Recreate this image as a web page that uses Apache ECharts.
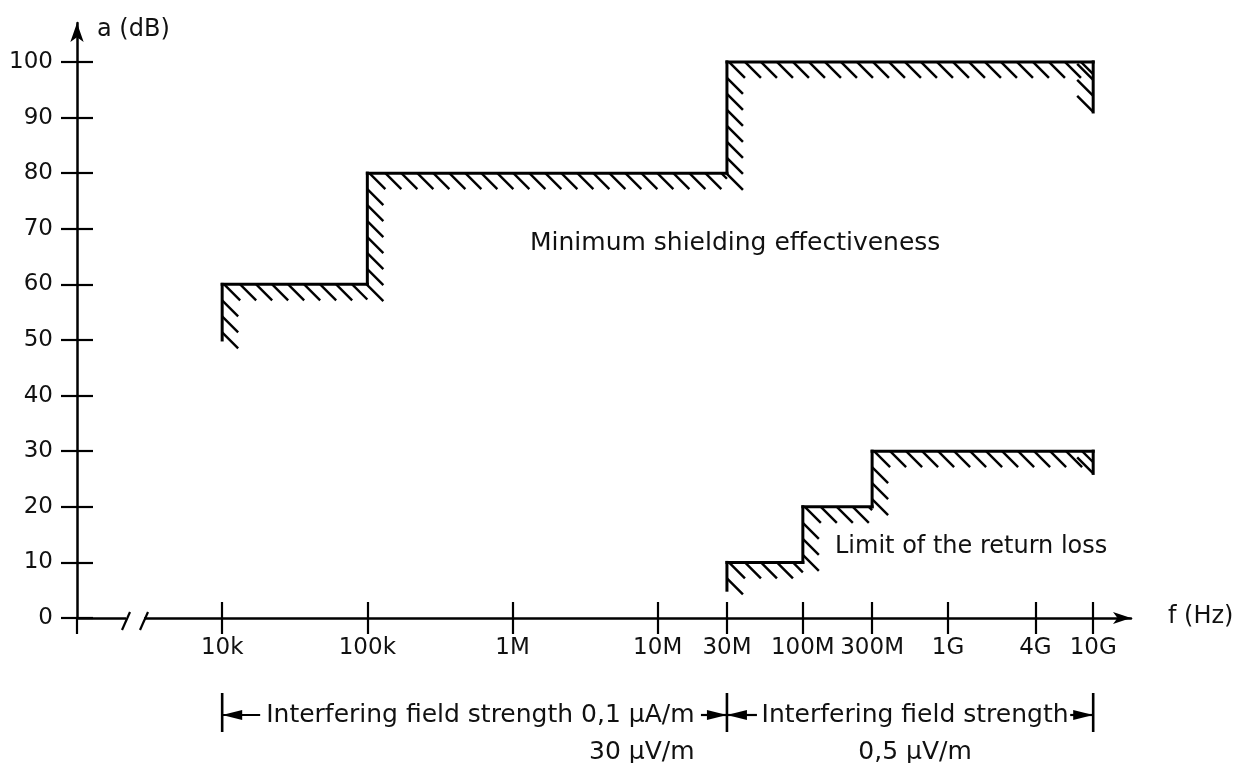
<!DOCTYPE html>
<html>
<head>
<meta charset="utf-8">
<title>Shielding effectiveness</title>
<script src="https://cdn.jsdelivr.net/npm/echarts@6/dist/echarts.min.js"></script>
<style>
  html, body { margin: 0; padding: 0; background: #fff; }
  #chart { width: 1234px; height: 763px; }
</style>
</head>
<body>
<div id="chart"></div>
<script>
// 横轴刻度 (Hz)
const tickFreq = [1e4, 1e5, 1e6, 1e7, 3e7, 1e8, 3e8, 1e9, 4e9, 1e10]
const tickLabels = ['10k', '100k', '1M', '10M', '30M', '100M', '300M', '1G', '4G', '10G']
// 纵轴刻度 (dB)
const dbTicks = [0, 10, 20, 30, 40, 50, 60, 70, 80, 90, 100]

// 最小屏蔽效能 折线顶点
const shieldFreq = [1e4, 1e4, 1e5, 1e5, 3e7, 3e7, 1e10, 1e10]
const shieldDb = [50, 60, 60, 80, 80, 100, 100, 91]
// 回波损耗限值 折线顶点
const returnFreq = [3e7, 3e7, 1e8, 1e8, 3e8, 3e8, 1e10, 1e10]
const returnDb = [5, 10, 10, 20, 20, 30, 30, 26]

// 干扰场强区间
const bandEdges = [1e4, 3e7, 1e10]
const bandTexts = [
  ['Interfering field strength 0,1 \u00b5A/m', '30 \u00b5V/m'],
  ['Interfering field strength', '0,5 \u00b5V/m']
]

const FONT = 'DejaVu Sans'
const INK = '#000'
const TEXT = '#111'
const LOG_MIN = 3
const LOG_MAX = 10.2605

const lg = (f) => Math.log10(f)

// 顶点 -> 线段
const toSegments = (freqs, dbs) =>
  freqs.slice(1).map((f, i) => [lg(freqs[i]), dbs[i], lg(f), dbs[i + 1]])

// 画一段折线和它右手边的斜线阴影
const renderStep = (params, api) => {
  const p1 = api.coord([api.value(0), api.value(1)])
  const p2 = api.coord([api.value(2), api.value(3)])
  const hatch = []
  const len = 16
  const gap = 16
  if (Math.abs(p1[1] - p2[1]) < 0.5) {
    const xs = Math.min(p1[0], p2[0])
    const xe = Math.max(p1[0], p2[0])
    for (let x = xs + 2; x < xe - 1; x += gap) {
      const d = Math.min(len, xe - x)
      hatch.push([x, p1[1], x + d, p1[1] + d])
    }
  } else if (p2[1] < p1[1]) {
    for (let y = p2[1] + gap; y <= p1[1] + 1; y += gap) {
      hatch.push([p1[0], y, p1[0] + len, y + len])
    }
  } else {
    for (let y = p2[1]; y > p1[1] + 8; y -= gap) {
      const d = Math.min(len, y - p1[1])
      hatch.push([p1[0] - d, y - d, p1[0], y])
    }
  }
  const children = hatch.map((h) => ({
    type: 'line',
    shape: { x1: h[0], y1: h[1], x2: h[2], y2: h[3] },
    style: { stroke: INK, lineWidth: 2.4 }
  }))
  children.push({
    type: 'line',
    shape: { x1: p1[0], y1: p1[1], x2: p2[0], y2: p2[1] },
    style: { stroke: INK, lineWidth: 3, lineCap: 'square' }
  })
  return { type: 'group', children }
}

const tickLogs = tickFreq.map(lg)

const labelFor = (v) => {
  const i = tickLogs.findIndex((t) => Math.abs(t - v) < 1e-6)
  return i >= 0 ? tickLabels[i] : ''
}

const chart = echarts.init(document.getElementById('chart'))

const baseX = {
  type: 'value',
  min: LOG_MIN,
  max: LOG_MAX,
  position: 'bottom',
  splitLine: { show: false }
}
const baseY = {
  type: 'value',
  min: 0,
  max: 107,
  position: 'left',
  splitLine: { show: false }
}

const option = {
  animation: false,
  backgroundColor: '#fff',
  grid: { left: 77, right: 103, top: 23, bottom: 145 },
  xAxis: [
    {
      ...baseX,
      axisLine: {
        show: true,
        symbol: ['none', 'arrow'],
        symbolSize: [9, 18],
        lineStyle: { color: INK, width: 2.5 }
      },
      axisTick: {
        show: true,
        length: 16,
        customValues: [LOG_MIN, ...tickLogs],
        lineStyle: { color: INK, width: 2.2 }
      },
      axisLabel: {
        show: true,
        customValues: tickLogs,
        formatter: labelFor,
        margin: 19,
        fontSize: 23,
        fontFamily: FONT,
        color: TEXT
      }
    },
    {
      ...baseX,
      axisLine: { show: false },
      axisTick: {
        show: true,
        inside: true,
        length: 16,
        customValues: tickLogs,
        lineStyle: { color: INK, width: 2.2 }
      },
      axisLabel: { show: false }
    }
  ],
  yAxis: [
    {
      ...baseY,
      axisLine: {
        show: true,
        symbol: ['none', 'arrow'],
        symbolSize: [10, 19],
        lineStyle: { color: INK, width: 2.5 }
      },
      axisTick: {
        show: true,
        length: 16,
        customValues: dbTicks,
        lineStyle: { color: INK, width: 2.2 }
      },
      axisLabel: {
        show: true,
        customValues: dbTicks,
        margin: 24,
        fontSize: 23,
        fontFamily: FONT,
        color: TEXT
      }
    },
    {
      ...baseY,
      axisLine: { show: false },
      axisTick: {
        show: true,
        inside: true,
        length: 16,
        customValues: dbTicks,
        lineStyle: { color: INK, width: 2.2 }
      },
      axisLabel: { show: false }
    }
  ],
  series: [
    {
      name: 'Minimum shielding effectiveness',
      type: 'custom',
      renderItem: renderStep,
      encode: { x: [0, 2], y: [1, 3] },
      clip: false,
      data: toSegments(shieldFreq, shieldDb)
    },
    {
      name: 'Limit of the return loss',
      type: 'custom',
      renderItem: renderStep,
      encode: { x: [0, 2], y: [1, 3] },
      clip: false,
      data: toSegments(returnFreq, returnDb)
    }
  ]
}
chart.setOption(option)

// 文字宽度
const measure = (txt, size) => {
  const ctx = document.createElement('canvas').getContext('2d')
  ctx.font = size + 'px "' + FONT + '"'
  return ctx.measureText(txt).width
}

const textEl = (txt, x, y, opts = {}) => ({
  type: 'text',
  x,
  y,
  z: 50,
  style: {
    text: txt,
    fontSize: opts.size || 24,
    fontFamily: FONT,
    fill: TEXT,
    align: opts.align || 'left',
    verticalAlign: opts.verticalAlign || 'middle',
    lineHeight: opts.lineHeight
  }
})

const seg = (x1, y1, x2, y2, w) => ({
  type: 'line',
  z: 50,
  shape: { x1, y1, x2, y2 },
  style: { stroke: INK, lineWidth: w || 2.2 }
})

const arrowHead = (tipX, y, dir) => ({
  type: 'polygon',
  z: 50,
  shape: { points: [[tipX, y], [tipX + dir * 20, y - 5], [tipX + dir * 20, y + 5]] },
  style: { fill: INK }
})

// 区间标注
const bx = bandEdges.map((f) => chart.convertToPixel({ xAxisIndex: 0 }, lg(f)))
const dimY = 715
const graphics = []
bx.forEach((x) => graphics.push(seg(x, 693, x, 732, 2.6)))

graphics.push(arrowHead(bx[0], dimY, 1), seg(bx[0], dimY, bx[0] + 38, dimY))
graphics.push(arrowHead(bx[1], dimY, -1), seg(bx[1] - 26, dimY, bx[1], dimY))
graphics.push(arrowHead(bx[1], dimY, 1), seg(bx[1], dimY, bx[1] + 30, dimY))
graphics.push(arrowHead(bx[2], dimY, -1), seg(bx[2] - 23, dimY, bx[2], dimY))

const t1Left = bx[0] + 44
const t1Right = t1Left + measure(bandTexts[0][0], 25)
graphics.push(textEl(bandTexts[0].join('\n'), t1Right, dimY - 18.5, { size: 25, align: 'right', verticalAlign: 'top', lineHeight: 37 }))
graphics.push(textEl(bandTexts[1].join('\n'), (bx[1] + bx[2]) / 2 + 5, dimY - 18.5, { size: 25, align: 'center', verticalAlign: 'top', lineHeight: 37 }))

// 曲线说明
graphics.push(textEl('Minimum shielding effectiveness', 530, 243, { size: 25 }))
graphics.push(textEl('Limit of the return loss', 835, 547))

// 轴名
graphics.push(textEl('a (dB)', 97, 30))
graphics.push(textEl('f (Hz)', 1168, 617))

// 横轴断开符号
graphics.push({
  type: 'rect',
  z: 60,
  shape: { x: 126, y: 613, width: 18, height: 10 },
  style: { fill: '#fff' }
})
graphics.push({ ...seg(122, 630, 130, 612), z: 61 })
graphics.push({ ...seg(140, 630, 148, 612), z: 61 })

chart.setOption({ graphic: graphics })
</script>
</body>
</html>
